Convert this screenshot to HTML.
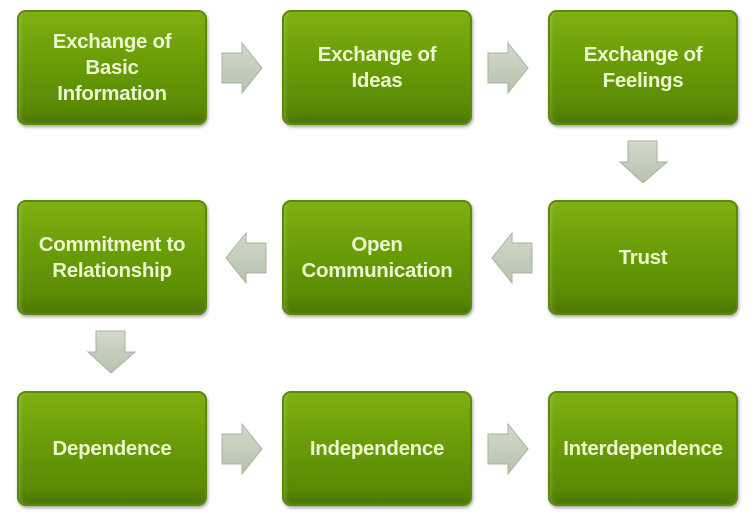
<!DOCTYPE html>
<html><head><style>
body{margin:0;width:755px;height:520px;background:#fff;position:relative;overflow:hidden;font-family:"Liberation Sans",sans-serif}
.b{position:absolute;width:190px;height:115px;border-radius:9px;background:linear-gradient(180deg,#7fb012 0%,#6a9c08 45%,#5a8a04 85%,#4a7302 100%);box-shadow:inset 0 0 0 2px #5b8a08,inset 3px 0 4px rgba(255,255,255,.25),1px 2px 3px rgba(0,0,0,.35);display:flex;align-items:center;justify-content:center;text-align:center;color:#ebf7cf;font-weight:bold;font-size:20.5px;line-height:26px;letter-spacing:-0.3px}
svg{position:absolute}
</style></head><body>
<div class="b" style="left:17px;top:10px">Exchange of<br>Basic<br>Information</div>
<div class="b" style="left:282px;top:10px">Exchange of<br>Ideas</div>
<div class="b" style="left:548px;top:10px">Exchange of<br>Feelings</div>
<div class="b" style="left:17px;top:200px">Commitment to<br>Relationship</div>
<div class="b" style="left:282px;top:200px">Open<br>Communication</div>
<div class="b" style="left:548px;top:200px">Trust</div>
<div class="b" style="left:17px;top:391px">Dependence</div>
<div class="b" style="left:282px;top:391px">Independence</div>
<div class="b" style="left:548px;top:391px">Interdependence</div>
<svg width="755" height="520" style="left:0;top:0">
<defs><linearGradient id="g" x1="0" y1="0" x2="0" y2="1"><stop offset="0" stop-color="#d2dacb"/><stop offset="1" stop-color="#b7c2ae"/></linearGradient></defs>
<g fill="url(#g)" stroke="#a8b39f" stroke-width="1">
<path d="M222,53 H242 V43 L262,68 L242,93 V83 H222 Z"/>
<path d="M488,53 H508 V43 L528,68 L508,93 V83 H488 Z"/>
<path d="M222,434 H242 V424 L262,449 L242,474 V464 H222 Z"/>
<path d="M488,434 H508 V424 L528,449 L508,474 V464 H488 Z"/>
<path d="M532,243 H512 V233 L492,258 L512,283 V273 H532 Z"/>
<path d="M266,243 H246 V233 L226,258 L246,283 V273 H266 Z"/>
<path d="M628,141 H657 V162 H667 L643,183 L620,162 H628 Z"/>
<path d="M96,331 H125 V352 H135 L111,373 L88,352 H96 Z"/>
</g></svg>
</body></html>
